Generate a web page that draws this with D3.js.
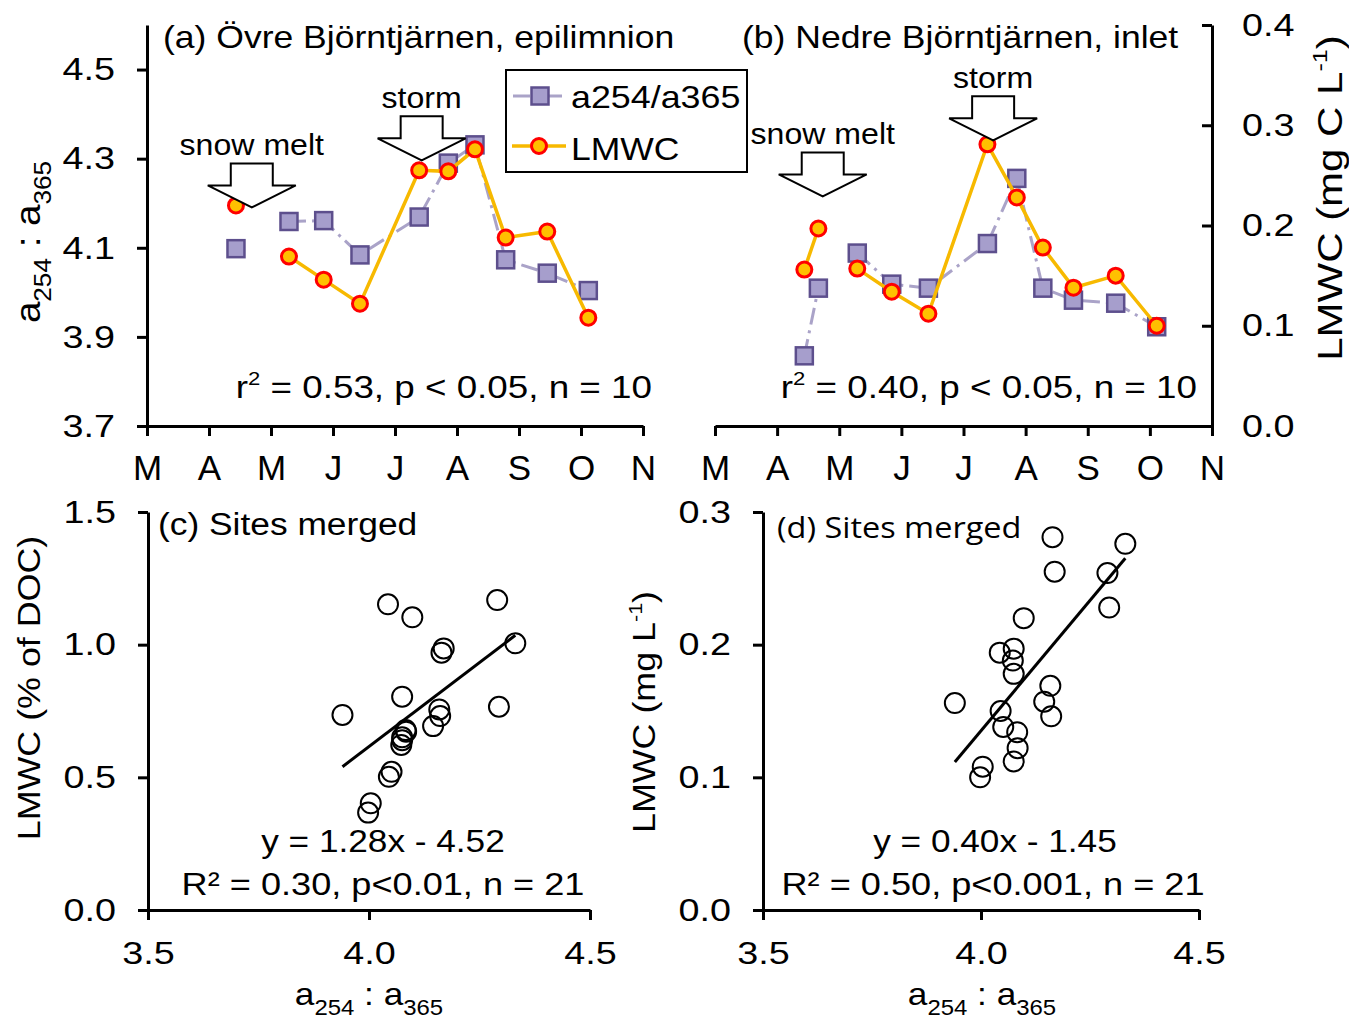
<!DOCTYPE html>
<html>
<head>
<meta charset="utf-8">
<script src="https://cdn.jsdelivr.net/npm/d3@7"></script>
<style>
  body { margin: 0; background: #fff; }
  svg { display: block; }
</style>
</head>
<body>
<svg width="1349" height="1023"></svg>
<script>
// ---- data ----
var months = ['M', 'A', 'M', 'J', 'J', 'A', 'S', 'O', 'N'];   // Mar..Nov

// (a) Övre Björntjärnen: sampling time in months after 1 March
var monthA = [1.435, 2.29, 2.85, 3.435, 4.39, 4.86, 5.29, 5.785, 6.456, 7.118];
var ratioA = [4.098, 4.159, 4.161, 4.084, 4.169, 4.290, 4.331, 4.073, 4.043, 4.004];
var lmwcA  = [0.220, 0.169, 0.146, 0.122, 0.255, 0.254, 0.276, 0.188, 0.194, 0.108];
var segmentsA = [[0, 0], [1, 9]];          // which samples are joined by lines

// (b) Nedre Björntjärnen
var monthB = [1.438, 1.664, 2.29, 2.845, 3.435, 4.385, 4.858, 5.277, 5.77, 6.45, 7.11];
var ratioB = [3.940, 4.075, 4.145, 4.083, 4.075, 4.164, 4.294, 4.075, 4.051, 4.045, 3.998];
var lmwcB  = [0.156, 0.197, 0.157, 0.134, 0.112, 0.281, 0.228, 0.178, 0.138, 0.150, 0.100];
var segmentsB = [[0, 1], [2, 10]];

// (c) LMWC as % of DOC, same samples (a then b)
var lmwcPctA = [1.103, 0.756, 0.731, 0.672, 0.986, 1.168, 1.005, 0.622, 1.152, 0.402];
var lmwcPctB = [0.735, 0.804, 0.693, 0.678, 0.651, 0.970, 0.766, 0.640, 0.521, 0.502, 0.367];

// events (month, LMWC level at arrow tip)
var eventLabels = ['snow melt', 'storm'];
var eventMonthA = [1.69, 4.43];
var eventTipA = [0.218, 0.265];
var eventMonthB = [1.734, 4.477];
var eventTipB = [0.229, 0.285];

var ratioTicksA = [3.7, 3.9, 4.1, 4.3, 4.5];
var lmwcTicks = [0, 0.1, 0.2, 0.3, 0.4];
var ratioTicksX = [3.5, 4.0, 4.5];
var pctTicks = [0, 0.5, 1.0, 1.5];
var mgTicks = [0, 0.1, 0.2, 0.3];

// ---- setup ----
var svg = d3.select('svg');
var FONT = 'Liberation Sans, Arial, Helvetica, sans-serif';
var RATIO_LINE = '#aaa3c8', SQ_FILL = '#a69ecc', SQ_STROKE = '#5d4f8d';
var GOLD = '#f7b900', RED = '#ff0000', GOLD_FILL = '#ffc000';
var DASH = '17 6 3 6';

// text helper: stretched horizontally by k along the reading direction
function label(x, y, o) {
  var fs = o.size || 30;
  var g = svg.append('g').attr('transform', 'translate(' + x + ',' + y + ')' +
    (o.rotate ? ' rotate(' + o.rotate + ')' : '') + ' scale(' + (o.k || 1) + ',1)');
  var t = g.append('text')
    .attr('text-anchor', o.anchor || 'start')
    .attr('font-family', o.family || FONT)
    .attr('font-size', fs)
    .attr('fill', '#000');
  var shift = 0;
  (o.parts || [[o.text]]).forEach(function(p) {
    var target = p[1] === 'sub' ? fs * 0.3 : p[1] === 'sup' ? -fs * 0.42 : 0;
    var s = t.append('tspan').text(p[0]).attr('dy', target - shift);
    if (p[1]) s.attr('font-size', fs * (p[1] === 'sub' ? 0.68 : 0.6));
    shift = target;
  });
  return t;
}

function styleAxis(g, k, fs) {
  g.select('.domain').attr('stroke-width', 3);
  g.selectAll('.tick line').attr('stroke-width', 3);
  g.selectAll('.tick text')
    .attr('font-size', fs).attr('font-family', FONT).attr('fill', '#000')
    .each(function() {
      var t = d3.select(this);
      var x = +t.attr('x') || 0;
      t.attr('x', x / k).attr('transform', 'scale(' + k + ',1)');
    });
}

var fmt1 = d3.format('.1f');
var TICK_FS = 32, TICK_K = 1.18;

// ---- time-series panels ----
var xA = d3.scaleLinear().domain([0, 8]).range([147, 643]);
var xB = d3.scaleLinear().domain([0, 8]).range([715, 1212]);
var yRatioA = d3.scaleLinear().domain([3.7, 4.6]).range([426, 25]);
var yRatioB = d3.scaleLinear().domain([3.8, 4.6]).range([426, 25]);
var yLmwc = d3.scaleLinear().domain([0, 0.4]).range([426, 25]);

var monthAxis = function(x) {
  return d3.axisBottom(x).tickValues(d3.range(months.length))
    .tickFormat(function(i) { return months[i]; })
    .tickSize(10).tickSizeOuter(0).tickPadding(19);
};

var gA = svg.append('g').attr('transform', 'translate(0,426)').call(monthAxis(xA));
styleAxis(gA, 1, 35);
var gB = svg.append('g').attr('transform', 'translate(0,426)').call(monthAxis(xB));
styleAxis(gB, 1, 35);

var gLeft = svg.append('g').attr('transform', 'translate(147,0)')
  .call(d3.axisLeft(yRatioA).tickValues(ratioTicksA).tickFormat(fmt1)
    .tickSize(10).tickSizeOuter(0).tickPadding(22));
styleAxis(gLeft, TICK_K, TICK_FS);

var gRight = svg.append('g').attr('transform', 'translate(1212,0)')
  .call(d3.axisRight(yLmwc).tickValues(lmwcTicks).tickFormat(fmt1)
    .tickSize(-10).tickSizeOuter(0).tickPadding(30));
styleAxis(gRight, TICK_K, TICK_FS);

var drawSeries = function(mon, ratio, lmwc, segs, x, yR) {
  var layer = svg.append('g');
  var lineR = d3.line().x(function(i) { return x(mon[i]); }).y(function(i) { return yR(ratio[i]); });
  var lineL = d3.line().x(function(i) { return x(mon[i]); }).y(function(i) { return yLmwc(lmwc[i]); });
  var segIdx = segs.filter(function(s) { return s[1] > s[0]; })
    .map(function(s) { return d3.range(s[0], s[1] + 1); });

  layer.selectAll('.rline').data(segIdx).enter().append('path')
    .attr('d', lineR).attr('fill', 'none').attr('stroke', RATIO_LINE)
    .attr('stroke-width', 3).attr('stroke-dasharray', DASH);
  layer.selectAll('.sq').data(ratio).enter().append('rect')
    .attr('x', function(d, i) { return x(mon[i]) - 8.5; })
    .attr('y', function(d) { return yR(d) - 8.5; })
    .attr('width', 17).attr('height', 17)
    .attr('fill', SQ_FILL).attr('stroke', SQ_STROKE).attr('stroke-width', 2.5);

  layer.selectAll('.lline').data(segIdx).enter().append('path')
    .attr('d', lineL).attr('fill', 'none').attr('stroke', GOLD).attr('stroke-width', 3.5);
  layer.selectAll('.dot').data(lmwc).enter().append('circle')
    .attr('cx', function(d, i) { return x(mon[i]); })
    .attr('cy', function(d) { return yLmwc(d); })
    .attr('r', 7.5).attr('fill', GOLD_FILL).attr('stroke', RED).attr('stroke-width', 3);
};

drawSeries(monthA, ratioA, lmwcA, segmentsA, xA, yRatioA);
drawSeries(monthB, ratioB, lmwcB, segmentsB, xB, yRatioB);

// event arrows
var arrowPath = 'M-21,-44H21V-22H44L0,0L-44,-22H-21Z';
var drawEvents = function(mon, tip, x) {
  eventLabels.forEach(function(name, i) {
    var px = x(mon[i]), py = yLmwc(tip[i]);
    svg.append('path').attr('d', arrowPath)
      .attr('transform', 'translate(' + px + ',' + py + ')')
      .attr('fill', '#fff').attr('stroke', '#000').attr('stroke-width', 2);
    label(px, py - 52, { text: name, size: 30, k: 1.07, anchor: 'middle' });
  });
};
drawEvents(eventMonthA, eventTipA, xA);
drawEvents(eventMonthB, eventTipB, xB);

label(163, 48, { text: '(a) Övre Björntjärnen, epilimnion', size: 32, k: 1.11 });
label(742, 48, { text: '(b) Nedre Björntjärnen, inlet', size: 32, k: 1.11 });
label(652, 398, { parts: [['r'], ['2', 'sup'], [' = 0.53, p < 0.05, n = 10']], size: 32, k: 1.15, anchor: 'end' });
label(1197, 398, { parts: [['r'], ['2', 'sup'], [' = 0.40, p < 0.05, n = 10']], size: 32, k: 1.15, anchor: 'end' });

label(40, 242, { parts: [['a'], ['254', 'sub'], [' : a'], ['365', 'sub']], size: 35, k: 1.1, rotate: -90, anchor: 'middle' });
label(1342, 198, { parts: [['LMWC (mg C L'], ['-1', 'sup'], [')']], size: 35, k: 1.2, rotate: -90, anchor: 'middle' });

// legend
var lg = svg.append('g');
lg.append('rect').attr('x', 506).attr('y', 70).attr('width', 241).attr('height', 102)
  .attr('fill', '#fff').attr('stroke', '#000').attr('stroke-width', 2);
lg.append('line').attr('x1', 513).attr('x2', 566).attr('y1', 96).attr('y2', 96)
  .attr('stroke', RATIO_LINE).attr('stroke-width', 3).attr('stroke-dasharray', DASH);
lg.append('rect').attr('x', 531.5).attr('y', 87.5).attr('width', 17).attr('height', 17)
  .attr('fill', SQ_FILL).attr('stroke', SQ_STROKE).attr('stroke-width', 2.5);
lg.append('line').attr('x1', 512).attr('x2', 566).attr('y1', 146).attr('y2', 146)
  .attr('stroke', GOLD).attr('stroke-width', 3.5);
lg.append('circle').attr('cx', 539).attr('cy', 146).attr('r', 7.5)
  .attr('fill', GOLD_FILL).attr('stroke', RED).attr('stroke-width', 3);
label(571, 108, { text: 'a254/a365', size: 32, k: 1.12 });
label(571, 160, { text: 'LMWC', size: 32, k: 1.11 });

// ---- scatter panels ----
var ratioAll = ratioA.concat(ratioB);
var pctAll = lmwcPctA.concat(lmwcPctB);
var mgAll = lmwcA.concat(lmwcB);

var fit = function(xs, ys) {
  var mx = d3.mean(xs), my = d3.mean(ys);
  var sxy = d3.sum(xs, function(v, i) { return (v - mx) * (ys[i] - my); });
  var sxx = d3.sum(xs, function(v) { return (v - mx) * (v - mx); });
  var b = sxy / sxx;
  return { slope: b, intercept: my - b * mx };
};

var scatter = function(xs, ys, x, y, yTicks) {
  var gx = svg.append('g').attr('transform', 'translate(0,' + y.range()[0] + ')')
    .call(d3.axisBottom(x).tickValues(ratioTicksX).tickFormat(fmt1)
      .tickSize(10).tickSizeOuter(0).tickPadding(21));
  styleAxis(gx, TICK_K, TICK_FS);
  var gy = svg.append('g').attr('transform', 'translate(' + x.range()[0] + ',0)')
    .call(d3.axisLeft(y).tickValues(yTicks).tickFormat(fmt1)
      .tickSize(10).tickSizeOuter(0).tickPadding(22));
  styleAxis(gy, TICK_K, TICK_FS);

  svg.append('g').selectAll('circle').data(ys).enter().append('circle')
    .attr('cx', function(d, i) { return x(xs[i]); })
    .attr('cy', function(d) { return y(d); })
    .attr('r', 10).attr('fill', 'none').attr('stroke', '#000').attr('stroke-width', 2);

  var f = fit(xs, ys);
  var ext = d3.extent(xs);
  svg.append('line')
    .attr('x1', x(ext[0])).attr('y1', y(f.intercept + f.slope * ext[0]))
    .attr('x2', x(ext[1])).attr('y2', y(f.intercept + f.slope * ext[1]))
    .attr('stroke', '#000').attr('stroke-width', 3);
};

var xC = d3.scaleLinear().domain([3.5, 4.5]).range([148, 590]);
var yC = d3.scaleLinear().domain([0, 1.5]).range([910, 512]);
var xD = d3.scaleLinear().domain([3.5, 4.5]).range([763, 1199]);
var yD = d3.scaleLinear().domain([0, 0.3]).range([910, 512]);

scatter(ratioAll, pctAll, xC, yC, pctTicks);
scatter(ratioAll, mgAll, xD, yD, mgTicks);

label(158, 535, { text: '(c) Sites merged', size: 31, k: 1.14 });
label(777, 538, { text: '(d) Sites merged', size: 29, k: 1.12, family: 'Open Sans, Noto Sans, sans-serif' });

label(383, 852, { text: 'y = 1.28x - 4.52', size: 32, k: 1.1, anchor: 'middle' });
label(383, 895, { text: 'R² = 0.30, p<0.01, n = 21', size: 32, k: 1.13, anchor: 'middle' });
label(995, 852, { text: 'y = 0.40x - 1.45', size: 32, k: 1.1, anchor: 'middle' });
label(993, 895, { text: 'R² = 0.50, p<0.001, n = 21', size: 32, k: 1.13, anchor: 'middle' });

label(40, 688, { text: 'LMWC (% of DOC)', size: 32, k: 1.12, rotate: -90, anchor: 'middle' });
label(655, 712, { parts: [['LMWC (mg L'], ['-1', 'sup'], [')']], size: 32, k: 1.12, rotate: -90, anchor: 'middle' });
label(369, 1005, { parts: [['a'], ['254', 'sub'], [' : a'], ['365', 'sub']], size: 32, k: 1.1, anchor: 'middle' });
label(982, 1005, { parts: [['a'], ['254', 'sub'], [' : a'], ['365', 'sub']], size: 32, k: 1.1, anchor: 'middle' });
</script>
</body>
</html>
